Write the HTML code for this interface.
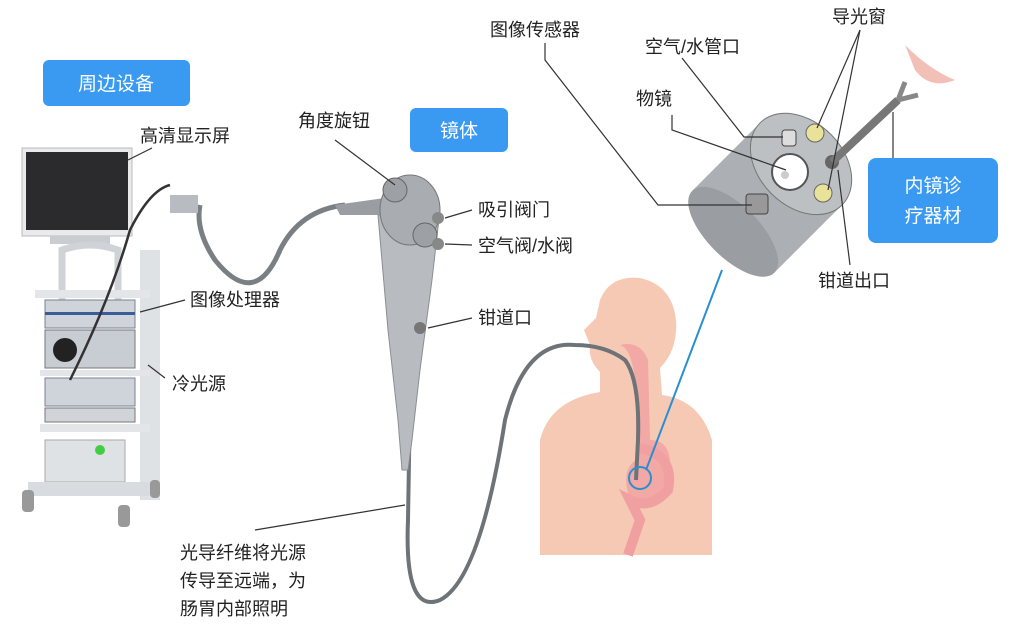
<!DOCTYPE html>
<html><head><meta charset="utf-8"><style>
html,body{margin:0;padding:0;background:#fff}
svg{display:block}
text{font-family:"Liberation Sans","Noto Sans CJK SC",sans-serif;fill:#222}
</style></head><body>
<svg width="1024" height="629" viewBox="0 0 1024 629">
<!-- body silhouette -->
<g fill="#f6c9b4">
<path d="M600 300 Q610 275 640 278 Q672 285 676 320 Q678 350 660 368 L662 395 Q700 400 712 440 L712 555 L540 555 L540 440 Q550 400 600 392 L600 372 Q588 360 590 345 L584 330 Q592 322 596 318 Z"/>
</g>
<path d="M620 345 Q635 350 636 400 L636 460 Q620 470 630 500 Q660 510 670 470 Q672 440 650 440 L648 360 Q640 340 620 345 Z" fill="#f2a8a4"/>
<path d="M640 448 Q675 455 668 490 Q650 510 630 500 L640 520 L628 555" fill="none" stroke="#f0a0a0" stroke-width="10"/>
<!-- tube -->
<path d="M410 400 L408 520 Q404 615 440 600 Q480 580 505 420 Q525 340 575 345 Q605 345 625 360 Q640 380 638 440 L636 480" fill="none" stroke="#6e7378" stroke-width="4"/>
<path d="M345 205 Q300 210 280 250 Q255 310 215 260 Q195 230 200 205" fill="none" stroke="#7a7f84" stroke-width="5"/>
<!-- blue pointer line -->
<line x1="722" y1="270" x2="646" y2="470" stroke="#2a8fd0" stroke-width="2"/>
<circle cx="640" cy="478" r="11" fill="none" stroke="#2a8fd0" stroke-width="2"/>
<!-- endoscope body -->
<path d="M378 215 L440 210 L432 280 L420 370 L412 440 L408 470 L402 470 L398 420 L388 330 Z" fill="#b8bcc0" stroke="#8a8e92"/>
<path d="M335 205 L385 198 L392 215 L340 215 Z" fill="#9a9ea2"/>
<ellipse cx="410" cy="210" rx="30" ry="35" fill="#a9adb1" stroke="#777"/>
<circle cx="395" cy="190" r="12" fill="#9da1a5" stroke="#666"/>
<circle cx="425" cy="235" r="12" fill="#9da1a5" stroke="#666"/>
<circle cx="438" cy="218" r="6" fill="#888"/><circle cx="438" cy="244" r="6" fill="#888"/>
<circle cx="420" cy="328" r="6" fill="#777"/>
<!-- cart -->
<rect x="22" y="148" width="110" height="88" fill="#e8eaec" stroke="#bbb"/>
<rect x="26" y="152" width="102" height="78" fill="#2b2b2d"/>
<rect x="50" y="236" width="60" height="8" fill="#c9cdd2"/>
<path d="M62 300 L62 250 Q90 240 118 250 L118 300" fill="none" stroke="#cfd3d7" stroke-width="7"/>
<rect x="140" y="250" width="20" height="250" fill="#dfe2e5"/>
<rect x="35" y="290" width="115" height="8" fill="#e3e5e8"/>
<rect x="45" y="300" width="90" height="28" fill="#cfd4da" stroke="#7a8290"/>
<rect x="45" y="312" width="90" height="3" fill="#3b5b9a"/>
<rect x="45" y="330" width="90" height="38" fill="#c8cdd3" stroke="#777"/>
<circle cx="65" cy="350" r="12" fill="#222"/>
<rect x="40" y="370" width="110" height="6" fill="#e3e5e8"/>
<rect x="45" y="378" width="90" height="28" fill="#cfd4da" stroke="#7a8290"/>
<rect x="45" y="408" width="90" height="14" fill="#d0d4d8" stroke="#777"/>
<rect x="40" y="424" width="110" height="8" fill="#e3e5e8"/>
<rect x="45" y="440" width="80" height="42" fill="#dfe2e5" stroke="#aaa"/>
<circle cx="100" cy="450" r="5" fill="#4c4"/>
<rect x="28" y="482" width="130" height="14" fill="#d8dbdf"/>
<rect x="22" y="490" width="12" height="22" fill="#999" rx="4"/>
<rect x="118" y="505" width="12" height="22" fill="#999" rx="4"/>
<rect x="150" y="480" width="10" height="18" fill="#999" rx="4"/>
<path d="M70 380 Q110 300 130 230 Q150 190 170 185" fill="none" stroke="#333" stroke-width="2.5"/>
<rect x="170" y="195" width="28" height="18" fill="#b8bcc0"/>
<!-- distal tip -->
<g transform="translate(777 188) rotate(-45)">
<rect x="-62" y="-58" width="96" height="116" fill="#acafb3"/>
<ellipse cx="-62" cy="0" rx="26" ry="58" fill="#9a9da1"/>
<ellipse cx="34" cy="0" rx="42" ry="58" fill="#bdc0c3" stroke="#777"/>
</g>
<circle cx="790" cy="172" r="18" fill="#fff" stroke="#555" stroke-width="2"/>
<circle cx="785" cy="175" r="4" fill="#ccc"/>
<circle cx="815" cy="133" r="9" fill="#e9e39a" stroke="#666"/>
<circle cx="823" cy="193" r="9" fill="#e9e39a" stroke="#666"/>
<rect x="782" y="130" width="14" height="16" fill="#ddd" stroke="#444" rx="3"/>
<rect x="746" y="194" width="22" height="20" fill="#999" stroke="#444" rx="3"/>
<circle cx="832" cy="162" r="7" fill="#666"/>
<line x1="832" y1="162" x2="898" y2="100" stroke="#777" stroke-width="8"/>
<path d="M898 100 L905 82 M898 100 L918 95" stroke="#888" stroke-width="5"/>
<path d="M905 45 Q930 70 955 80 Q930 90 915 70 Z" fill="#f3c0b8"/>
<!-- leader lines -->
<g stroke="#333" stroke-width="1.2" fill="none">
<line x1="152" y1="148" x2="128" y2="160"/>
<line x1="185" y1="300" x2="140" y2="312"/>
<line x1="165" y1="378" x2="148" y2="365"/>
<line x1="335" y1="140" x2="395" y2="185"/>
<line x1="472" y1="210" x2="445" y2="218"/>
<line x1="472" y1="245" x2="445" y2="244"/>
<line x1="472" y1="318" x2="428" y2="328"/>
<line x1="255" y1="530" x2="405" y2="505"/>
<path d="M545 43 L545 60 L658 205 L752 205"/>
<path d="M682 58 L744 137 L783 137"/>
<path d="M672 115 L672 130 L786 170"/>
<line x1="860" y1="30" x2="817" y2="128"/>
<line x1="860" y1="30" x2="828" y2="190"/>
<line x1="850" y1="265" x2="838" y2="170"/>
<line x1="893" y1="158" x2="893" y2="112"/>
</g>
<!-- blue boxes -->
<rect x="43" y="60" width="147" height="46" rx="6" fill="#3a9af2"/>
<text x="116" y="90" text-anchor="middle" font-size="19" style="fill:#fff">周边设备</text>
<rect x="410" y="108" width="98" height="44" rx="6" fill="#3a9af2"/>
<text x="459" y="137" text-anchor="middle" font-size="19" style="fill:#fff">镜体</text>
<rect x="868" y="158" width="130" height="85" rx="8" fill="#3a9af2"/>
<text x="933" y="192" text-anchor="middle" font-size="19" style="fill:#fff">内镜诊</text>
<text x="933" y="222" text-anchor="middle" font-size="19" style="fill:#fff">疗器材</text>
<!-- labels -->
<g font-size="18">
<text x="140" y="142">高清显示屏</text>
<text x="190" y="306">图像处理器</text>
<text x="172" y="390">冷光源</text>
<text x="298" y="127">角度旋钮</text>
<text x="478" y="216">吸引阀门</text>
<text x="478" y="252">空气阀/水阀</text>
<text x="478" y="324">钳道口</text>
<text x="180" y="559">光导纤维将光源</text>
<text x="180" y="587">传导至远端，为</text>
<text x="180" y="615">肠胃内部照明</text>
<text x="490" y="36">图像传感器</text>
<text x="645" y="53">空气/水管口</text>
<text x="636" y="105">物镜</text>
<text x="832" y="23">导光窗</text>
<text x="818" y="287">钳道出口</text>
</g>
</svg>
</body></html>
